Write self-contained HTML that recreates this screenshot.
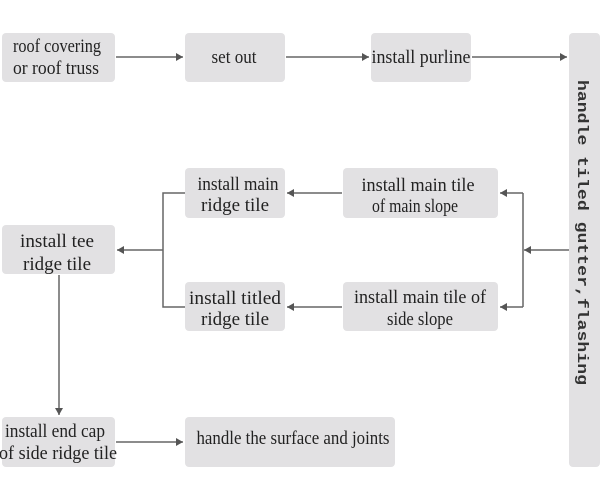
<!DOCTYPE html>
<html><head><meta charset="utf-8"><style>
html,body{margin:0;padding:0;background:#fff;}
svg{display:block}
text{font-family:"Liberation Serif",serif;font-size:19px;fill:#222;}
.v{font-family:"Liberation Mono",monospace;font-size:15px;font-weight:bold;fill:#333;}
</style></head><body>
<svg width="600" height="500" viewBox="0 0 600 500" xmlns="http://www.w3.org/2000/svg">
<defs><marker id="a" markerWidth="8" markerHeight="8" refX="7" refY="4" orient="auto" markerUnits="userSpaceOnUse"><path d="M0,0 L7,4 L0,8 Z" fill="#555"/></marker></defs>
<g fill="#e2e1e3">
<rect x="2" y="33" width="113" height="49" rx="4"/>
<rect x="185" y="33" width="100" height="49" rx="4"/>
<rect x="371" y="33" width="100" height="49" rx="4"/>
<rect x="569" y="33" width="31" height="434" rx="4"/>
<rect x="185" y="168" width="100" height="50" rx="4"/>
<rect x="343" y="168" width="155" height="50" rx="4"/>
<rect x="2" y="225" width="113" height="49" rx="4"/>
<rect x="185" y="282" width="100" height="49" rx="4"/>
<rect x="343" y="282" width="155" height="49" rx="4"/>
<rect x="2" y="417" width="113" height="50" rx="4"/>
<rect x="185" y="417" width="210" height="50" rx="4"/>
</g>
<g stroke="#666" stroke-width="1.5" fill="none">
<line x1="116" y1="57" x2="183" y2="57" marker-end="url(#a)"/>
<line x1="286" y1="57" x2="369" y2="57" marker-end="url(#a)"/>
<line x1="472" y1="57" x2="567" y2="57" marker-end="url(#a)"/>
<line x1="569" y1="250" x2="524" y2="250" marker-end="url(#a)"/>
<polyline points="523,193 500,193" marker-end="url(#a)"/>
<polyline points="523,307 500,307" marker-end="url(#a)"/>
<line x1="523" y1="193" x2="523" y2="307"/>
<line x1="342" y1="193" x2="287" y2="193" marker-end="url(#a)"/>
<line x1="342" y1="307" x2="287" y2="307" marker-end="url(#a)"/>
<polyline points="185,193 163,193 163,307 185,307"/>
<line x1="163" y1="250" x2="117" y2="250" marker-end="url(#a)"/>
<line x1="59" y1="275" x2="59" y2="415" marker-end="url(#a)"/>
<line x1="116" y1="442" x2="183" y2="442" marker-end="url(#a)"/>
</g>
<g text-anchor="middle">
<text x="57" y="52" textLength="88" lengthAdjust="spacingAndGlyphs">roof covering</text>
<text x="56" y="74" textLength="86" lengthAdjust="spacingAndGlyphs">or roof truss</text>
<text x="234" y="63" textLength="45" lengthAdjust="spacingAndGlyphs">set out</text>
<text x="421" y="63" textLength="99" lengthAdjust="spacingAndGlyphs">install purline</text>
<text x="238" y="190" textLength="81" lengthAdjust="spacingAndGlyphs">install main</text>
<text x="235" y="211" textLength="68" lengthAdjust="spacingAndGlyphs">ridge tile</text>
<text x="418" y="191" textLength="113" lengthAdjust="spacingAndGlyphs">install main tile</text>
<text x="415" y="212" textLength="86" lengthAdjust="spacingAndGlyphs">of main slope</text>
<text x="57" y="247" textLength="74" lengthAdjust="spacingAndGlyphs">install tee</text>
<text x="57" y="270" textLength="68" lengthAdjust="spacingAndGlyphs">ridge tile</text>
<text x="235" y="304" textLength="92" lengthAdjust="spacingAndGlyphs">install titled</text>
<text x="235" y="325" textLength="68" lengthAdjust="spacingAndGlyphs">ridge tile</text>
<text x="420" y="303" textLength="132" lengthAdjust="spacingAndGlyphs">install main tile of</text>
<text x="420" y="325" textLength="66" lengthAdjust="spacingAndGlyphs">side slope</text>
<text x="55" y="437" textLength="100" lengthAdjust="spacingAndGlyphs">install end cap</text>
<text x="58" y="459" textLength="118" lengthAdjust="spacingAndGlyphs">of side ridge tile</text>
<text x="293" y="444" textLength="193" lengthAdjust="spacingAndGlyphs">handle the surface and joints</text>
</g>
<text class="v" transform="translate(578,80) rotate(90)" textLength="305" lengthAdjust="spacingAndGlyphs">handle tiled gutter,flashing</text>
</svg>
</body></html>
